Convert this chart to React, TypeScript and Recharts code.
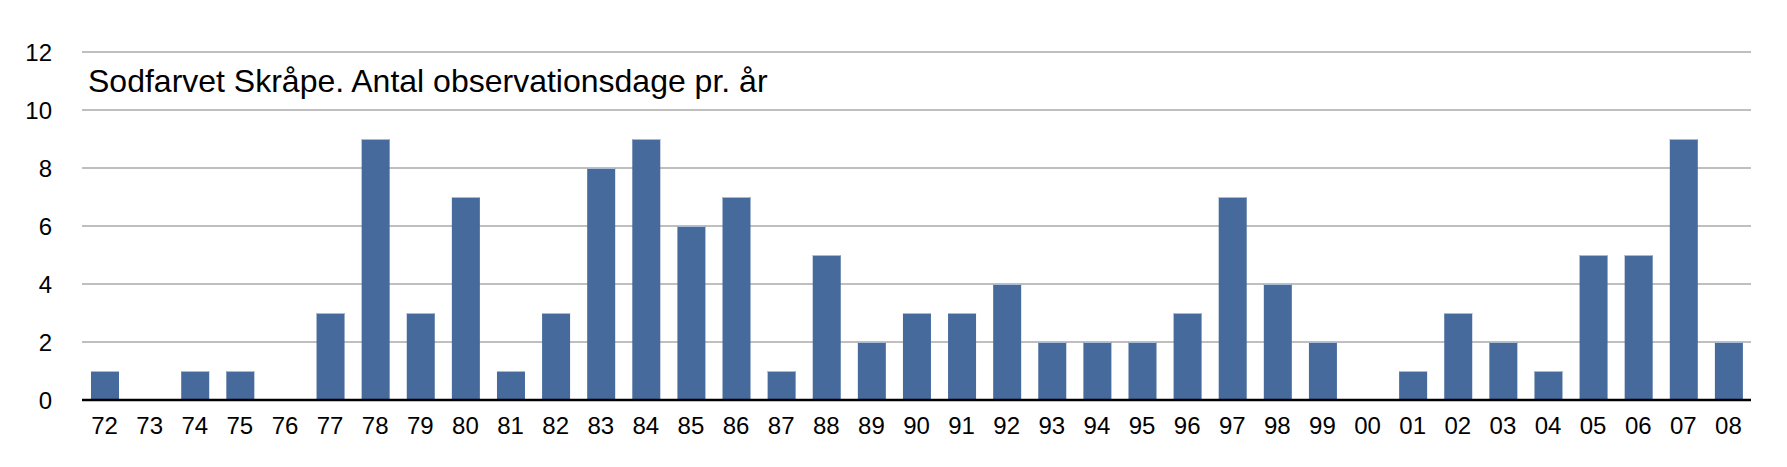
import React from 'react';
import { BarChart, Bar, XAxis, YAxis, CartesianGrid } from 'recharts';

const years = ['72','73','74','75','76','77','78','79','80','81','82','83','84','85','86','87','88','89','90','91','92','93','94','95','96','97','98','99','00','01','02','03','04','05','06','07','08'];
const days = [1,0,1,1,0,3,9,3,7,1,3,8,9,6,7,1,5,2,3,3,4,2,2,2,3,7,4,2,0,1,3,2,1,5,5,9,2];
const yTicks = [0,2,4,6,8,10,12];
const title = 'Sodfarvet Skråpe. Antal observationsdage pr. år';

const data = years.map((y, i) => ({ year: y, days: days[i] }));

const BarShape = (props: any) => {
  const { x, y, width, height } = props;
  if (!height || height <= 0) return null;
  return (
    <g>
      <rect x={x} y={y} width={width} height={height} fill="#466a9c" />
      <line x1={x} x2={x + width} y1={y + 0.5} y2={y + 0.5} stroke="#a9bbd3" strokeWidth={1} />
    </g>
  );
};

const font = '"Liberation Sans", Arial, Helvetica, sans-serif';

export default function App() {
  return (
    <div style={{ position: 'absolute', left: 0, top: 0, width: 1787, height: 467, background: '#fff', fontFamily: font }}>
      <BarChart width={1787} height={467} data={data} margin={{ top: 52, right: 36, bottom: 0, left: 0 }} barCategoryGap={0}>
        <CartesianGrid vertical={false} stroke="#aaaaaa" strokeWidth={1.5} />
        <XAxis
          dataKey="year"
          height={67}
          tickLine={false}
          tickSize={6}
          tickMargin={11}
          axisLine={{ stroke: '#000', strokeWidth: 2.5 }}
          tick={{ fill: '#000', fontSize: 24, fontFamily: font }}
          interval={0}
        />
        <YAxis
          width={82}
          domain={[0, 12]}
          ticks={yTicks}
          axisLine={false}
          tickLine={false}
          tickSize={6}
          tickMargin={24}
          tick={{ fill: '#000', fontSize: 24, fontFamily: font }}
          interval={0}
        />
        <Bar dataKey="days" barSize={28} isAnimationActive={false} shape={BarShape} />
      </BarChart>
      <div style={{ position: 'absolute', left: 88, top: 65, fontSize: 32, lineHeight: '32px', color: '#000', whiteSpace: 'nowrap' }}>
        {title}
      </div>
    </div>
  );
}
